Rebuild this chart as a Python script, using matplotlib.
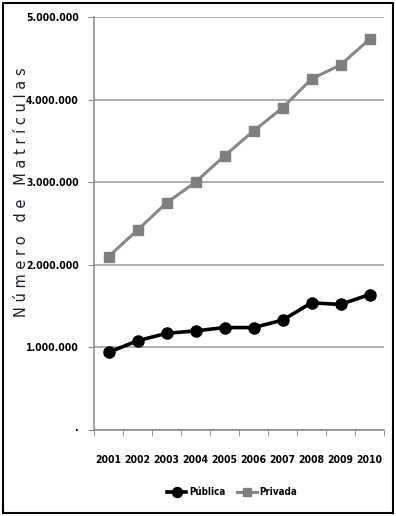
import matplotlib.pyplot as plt
from matplotlib.patches import Rectangle

# dados
anos = ['2001', '2002', '2003', '2004', '2005', '2006', '2007', '2008', '2009', '2010']
publica = [940000, 1080000, 1170000, 1200000, 1240000, 1240000, 1330000, 1540000, 1520000, 1640000]
privada = [2100000, 2420000, 2750000, 3000000, 3320000, 3620000, 3900000, 4250000, 4420000, 4730000]
yticks = [0, 1000000, 2000000, 3000000, 4000000, 5000000]
ylabels = ['\u00b7', '1.000.000', '2.000.000', '3.000.000', '4.000.000', '5.000.000']

fonte = {'family': 'DejaVu Sans', 'stretch': 'condensed', 'weight': 'bold'}

fig = plt.figure(figsize=(3.96, 5.16), dpi=100)
ax = fig.add_axes([94/396, 1 - 430/516, 290/396, 413/516])

x = range(len(anos))
ax.plot(x, publica, color='black', lw=2.6, marker='o', ms=8, label='Pública', zorder=3)
ax.plot(x, privada, color='#888888', lw=2.2, marker='s', ms=7, mfc='#7f7f7f', mec='#7f7f7f',
        label='Privada', zorder=3)

ax.set_xlim(-0.5, len(anos) - 0.5)
ax.set_ylim(0, 5000000)
ax.set_yticks(yticks)
ax.set_yticklabels(ylabels, fontsize=7.5, **fonte)
ax.set_xticks([i for i in x])
ax.set_xticklabels(anos, fontsize=7.5, **fonte)
ax.set_xticks([i - 0.5 for i in range(len(anos) + 1)], minor=True)
ax.tick_params(axis='x', which='major', length=0, pad=18)
ax.tick_params(axis='x', which='minor', length=4, color='#888888')
ax.tick_params(axis='y', length=4, color='#888888', pad=7)

ax.grid(axis='y', color='#999999', lw=1.1)
ax.set_axisbelow(True)
for s in ['top', 'right']:
    ax.spines[s].set_visible(False)
for s in ['left', 'bottom']:
    ax.spines[s].set_color('#888888')
    ax.spines[s].set_linewidth(1.1)

fig.text(22/396, 1 - 192/516, 'N ú m e r o   d e   M a t r í c u l a s', rotation=90,
         ha='center', va='center', fontsize=10.5, color='#1f1f33')

leg = fig.legend(loc='center', bbox_to_anchor=(232/396, 1 - 492/516), ncol=2, frameon=False,
                 prop={'family': 'DejaVu Sans', 'stretch': 'condensed', 'weight': 'bold', 'size': 7},
                 handlelength=2.0, columnspacing=1.2, handletextpad=0.3, markerscale=0.9)

fig.patches.append(Rectangle((3/396, 3/516), 390/396, 510/516, transform=fig.transFigure,
                             fill=False, ec='black', lw=1.5))

fig.savefig('out.png', dpi=100)
